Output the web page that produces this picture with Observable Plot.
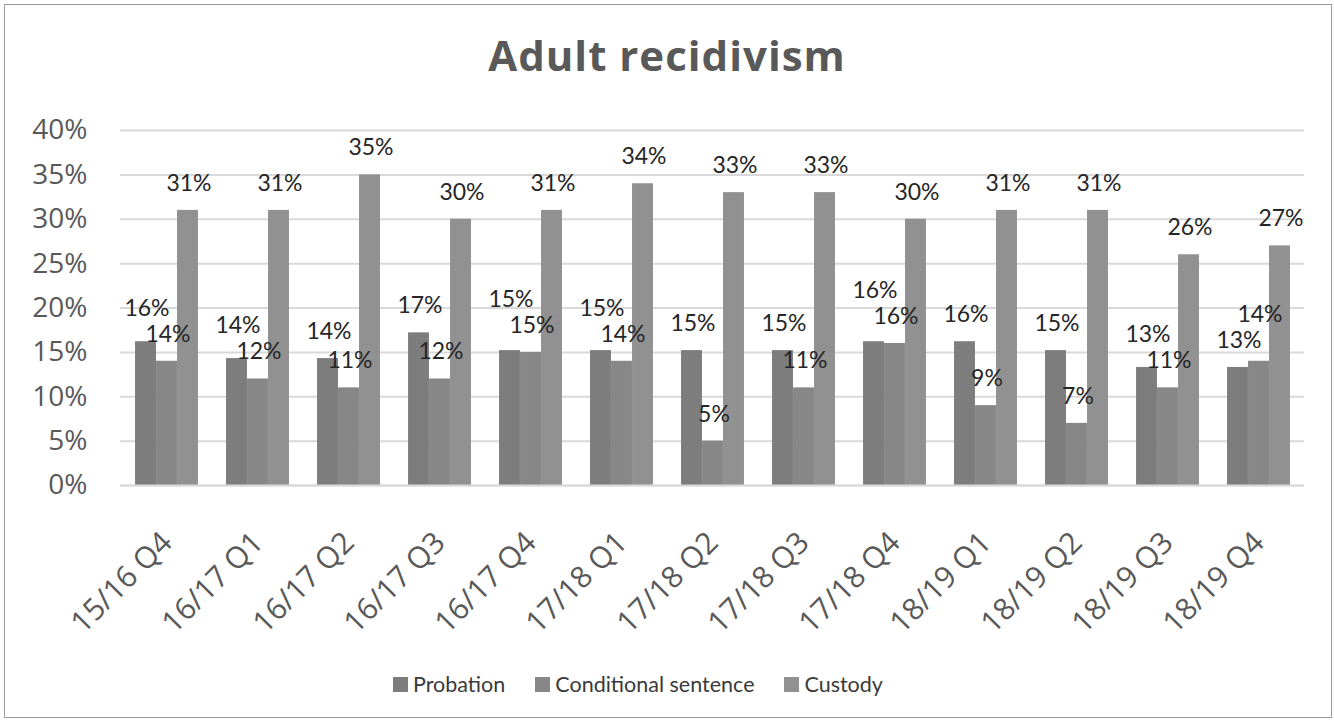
<!DOCTYPE html>
<html>
<head>
<meta charset="utf-8">
<script src="https://cdn.jsdelivr.net/npm/d3@7"></script>
<script src="https://cdn.jsdelivr.net/npm/@observablehq/plot@0.6"></script>
<style>
  html, body { margin: 0; padding: 0; background: #ffffff; }
  #wrap { position: relative; width: 1334px; height: 721px; overflow: hidden; font-family: "Open Sans", Lato, sans-serif; }
  #frame { position: absolute; left: 4px; top: 4px; width: 1328px; height: 714px; border: 1px solid #9a9a9a; box-sizing: border-box; }
  #title { position: absolute; left: 0; width: 1334px; top: 35px; line-height: 40px; text-align: center; font-size: 42px; letter-spacing: 1px; font-weight: bold; color: #595959; }
  #chart { position: absolute; left: 0; top: 100px; }
  #legend { position: absolute; left: 393px; top: 672px; height: 24px; display: flex; align-items: center; gap: 30px; font-family: Lato, sans-serif; font-size: 21.5px; color: #3a3a3a; }
  .item { display: flex; align-items: center; gap: 5px; }
  .sw { width: 15px; height: 15px; display: inline-block; }
</style>
</head>
<body>
<div id="wrap">
  <div id="frame"></div>
  <div id="title">Adult recidivism</div>
  <div id="chart"></div>
  <div id="legend"></div>
</div>
<script>
const categories = ["15/16 Q4","16/17 Q1","16/17 Q2","16/17 Q3","16/17 Q4","17/18 Q1","17/18 Q2","17/18 Q3","17/18 Q4","18/19 Q1","18/19 Q2","18/19 Q3","18/19 Q4"];
const seriesNames = ["Probation","Conditional sentence","Custody"];
const probation   = [16.2, 14.3, 14.3, 17.2, 15.2, 15.2, 15.2, 15.2, 16.2, 16.2, 15.2, 13.3, 13.3];
const conditional = [14, 12, 11, 12, 15, 14, 5, 11, 16, 9, 7, 11, 14];
const custody     = [31, 31, 35, 30, 31, 34, 33, 33, 30, 31, 31, 26, 27];
const yTicks = [0, 5, 10, 15, 20, 25, 30, 35, 40];
const colors = ["#7d7d7d", "#878787", "#919191"];

const W = 1334, H = 560, mL = 120, mR = 30, mT = 30, mB = 175;
const yMax = 40;
const pxPerUnit = (H - mT - mB) / yMax;
const labelOffset = 27 / pxPerUnit;   // label centre above the bar top
const labelGap = 26 / pxPerUnit;      // minimal vertical distance between neighbouring labels

const seriesValues = [probation, conditional, custody];
const tables = seriesValues.map((vals, s) => categories.map((c, i) => ({
  category: c, series: seriesNames[s], value: vals[i], labelY: vals[i] + labelOffset
})));
// resolve overlapping labels between probation and conditional sentence (push the higher one up)
categories.forEach((c, i) => {
  const p = tables[0][i], q = tables[1][i];
  if (Math.abs(p.labelY - q.labelY) < labelGap) {
    if (p.value >= q.value) p.labelY = q.labelY + labelGap;
    else q.labelY = p.labelY + labelGap;
  }
});

const step = (W - mL - mR) / categories.length;
const barW = 21;
const inset = (step - barW) / 2;

const marks = [
  Plot.gridY(yTicks, {stroke: "#d9d9d9", strokeOpacity: 1, strokeWidth: 2}),
];
tables.forEach((t, s) => {
  const dx = (s - 1) * barW;
  marks.push(Plot.barY(t, {x: "category", y: "value", fill: colors[s], insetLeft: inset, insetRight: inset, dx}));
});
marks.push(Plot.ruleY([0], {stroke: "#d9d9d9", strokeWidth: 2}));
tables.forEach((t, s) => {
  const dx = (s - 1) * barW + 1;
  marks.push(Plot.text(t, {x: "category", y: "labelY", text: d => Math.round(d.value) + "%", dx, fontSize: 23, fill: "#262626", fontFamily: "Lato"}));
});
marks.push(Plot.axisY({ticks: yTicks, tickFormat: d => d + "%", tickSize: 0, tickPadding: 33, fontSize: 28, fill: "#595959", fontFamily: "Open Sans", letterSpacing: 2, label: null}));
marks.push(Plot.axisX({tickRotate: -45, tickSize: 0, tickPadding: 52, fontSize: 30, fill: "#595959", fontFamily: "Open Sans", letterSpacing: 0.5, label: null}));

const chart = Plot.plot({
  width: W,
  height: H,
  marginLeft: mL,
  marginRight: mR,
  marginTop: mT,
  marginBottom: mB,
  style: {fontFamily: "Open Sans", background: "transparent", overflow: "visible"},
  x: {domain: categories, padding: 0, label: null},
  y: {domain: [0, yMax], label: null},
  marks
});
document.getElementById("chart").appendChild(chart);

const legend = document.getElementById("legend");
seriesNames.forEach((n, i) => {
  const it = document.createElement("div");
  it.className = "item";
  it.innerHTML = `<span class="sw" style="background:${colors[i]}"></span><span>${n}</span>`;
  legend.appendChild(it);
});
</script>
</body>
</html>
